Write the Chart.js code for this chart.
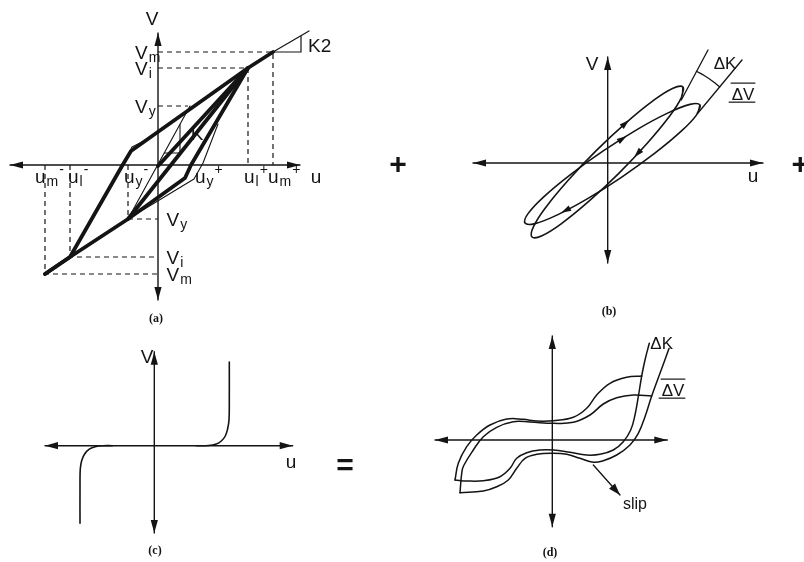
<!DOCTYPE html>
<html>
<head>
<meta charset="utf-8">
<script src="https://cdn.jsdelivr.net/npm/chart.js@4.4.1/dist/chart.umd.min.js"></script>
<style>
  html, body { margin: 0; padding: 0; background: #fff; }
  body { width: 804px; height: 562px; position: relative; overflow: hidden; }
  canvas { position: absolute; }
</style>
</head>
<body>
<canvas id="panelA" width="340" height="330" style="left:0;top:0"></canvas>
<canvas id="panelB" width="424" height="330" style="left:380px;top:0"></canvas>
<canvas id="panelC" width="380" height="232" style="left:0;top:330px"></canvas>
<canvas id="panelD" width="424" height="232" style="left:380px;top:330px"></canvas>
<script>
// All curves are given in (u, V) units; each panel's origin sits where its axes cross.

// ---------- (a) degrading stiffness loops ----------
const aAxis = [-14.8, 14.2, -13.5, 13.2];                 // uMin, uMax, VMin, VMax
const aEnvelopeUp   = [[-11.3,-10.9],[-8.8,-9.2],[-3.6,-0.1],[-2.7,1.4],[9.0,9.7],[11.5,11.3]];
const aReloadOrigin = [[0,-0.1],[9.0,9.7]];
const aUnload       = [[9.0,9.7],[3.3,0],[2.7,-1.3],[-3.0,-5.4],[-8.8,-9.2],[-11.3,-10.9]];
const aReloadPeak   = [[-3.0,-5.4],[9.0,9.7]];
const aElastic      = [[-3.0,-5.4],[3.2,5.9]];
const aSkeletonNeg  = [[-3.7,-0.5],[-2.6,1.8],[-1.2,2.5]];
const aSkeletonPos  = [[-3.0,-5.4],[3.6,-1.4],[4.5,0.2],[6.0,4.1]];
const aKTriangle    = [[0.65,1.2],[2.2,1.2],[2.2,4.05]];
const aPostYield    = [[11.5,11.3],[15.1,13.4]];
const aK2Triangle   = [[11.5,11.3],[14.3,11.3],[14.3,12.9]];
const aGuideMaxPos  = [[0,11.3],[11.5,11.3],[11.5,0]];
const aGuideIntPos  = [[0,9.7],[9.0,9.7],[9.0,0]];
const aGuideYldPos  = [[0,5.9],[3.0,5.9]];
const aGuideMaxNeg  = [[-11.3,0],[-11.3,-10.9],[0,-10.9]];
const aGuideIntNeg  = [[-8.8,0],[-8.8,-9.2],[0,-9.2]];
const aGuideYldNeg  = [[-3.0,0],[-3.0,-5.4],[0,-5.4]];
const aUTickLabelAt = [-12.3, -9.0, -3.4, 3.7, 8.6, 11.0];
const aUTickSubs    = ['m', 'l', 'y', 'y', 'l', 'm'];
const aUTickSigns   = ['-', '-', '-', '+', '+', '+'];
const aVTickUpper   = [11.3, 9.7, 5.9];
const aVTickUpSubs  = ['m', 'i', 'y'];
const aVTickLower   = [-5.4, -9.2, -10.9];
const aVTickLoSubs  = ['y', 'i', 'm'];

// ---------- (b) stiffness and strength degradation ----------
const bAxis = [-13.47, 15.53, -10.0, 10.6];
const bLoopStiff = [[7.53,7.60],[7.39,6.59],[6.12,4.59],[3.91,1.92],[1.11,-1.04],[-1.87,-3.82],[-4.56,-6.01],[-6.57,-7.27],
                    [-7.57,-7.40],[-7.43,-6.39],[-6.16,-4.39],[-3.95,-1.72],[-1.15,1.24],[1.83,4.02],[4.52,6.21],[6.53,7.47]];
const bLoopSoft  = [[9.23,5.80],[8.91,4.84],[7.30,3.13],[4.65,0.93],[1.37,-1.43],[-2.05,-3.59],[-5.08,-5.21],[-7.27,-6.06],
                    [-8.27,-6.00],[-7.95,-5.04],[-6.34,-3.33],[-3.69,-1.13],[-0.41,1.23],[3.01,3.39],[6.04,5.01],[8.23,5.86]];
const bSlopeStiff = [[7.36,6.3],[10.03,11.3]];
const bSlopeSoft  = [[9.03,5.0],[13.43,10.3]];
const bSlopeArc   = [[8.88,9.17],[9.69,8.72],[10.49,8.18],[11.2,7.62]];

// ---------- (c) slip ----------
const cAxis = [-10.93, 13.84, -8.73, 9.4];
const cSlipPos = [[4.2,0],[5.4,0.02],[6.2,0.17],[6.7,0.47],[7.1,0.97],[7.33,1.67],[7.47,2.57],[7.5,4.6],[7.5,8.37]];
const cSlipNeg = [[-4.2,0],[-5.1,0],[-5.9,-0.1],[-6.5,-0.35],[-6.95,-0.8],[-7.25,-1.45],[-7.4,-2.3],[-7.43,-4.0],[-7.43,-7.76]];

// ---------- (d) combined loops ----------
const dAxis = [-11.73, 11.5, -8.67, 10.4];
const dStiffLower = [[9.70,9.67],[9.27,8.0],[8.94,6.4],[8.60,4.33],[8.27,2.5],[7.84,1.0],[7.10,-0.17],[6.10,-1.0],[4.77,-1.43],
                     [3.44,-1.5],[1.77,-1.23],[0.10,-1.0],[-1.23,-1.0],[-2.56,-1.27],[-3.56,-1.83],[-4.23,-2.83],[-5.23,-3.67],
                     [-6.90,-4.07],[-8.56,-4.1],[-9.73,-4.0]];
const dStiffUpper = [[-9.73,-4.0],[-9.40,-2.33],[-8.56,-0.67],[-7.56,0.5],[-6.23,1.5],[-4.56,2.1],[-2.90,2.07],[-1.56,1.9],
                     [0.10,1.93],[2.10,2.27],[3.44,3.17],[4.44,4.5],[5.77,5.67],[7.44,6.27],[8.94,6.4]];
const dSoftLower  = [[11.67,9.15],[10.77,6.67],[9.94,4.4],[9.27,2.33],[8.60,0.67],[7.77,-0.5],[6.44,-1.5],[5.10,-2.07],
                     [4.10,-2.23],[2.77,-1.83],[1.44,-1.43],[0.10,-1.33],[-1.56,-1.43],[-2.73,-1.83],[-3.56,-2.83],
                     [-4.40,-4.0],[-5.56,-4.67],[-6.90,-5.1],[-9.23,-5.27]];
const dSoftUpper  = [[-9.23,-5.27],[-9.06,-3.33],[-8.88,-2.6],[-7.90,-1.0],[-6.90,0.33],[-5.56,1.27],[-3.90,1.83],[-2.23,1.8],
                     [0.10,1.67],[2.10,1.77],[3.77,2.5],[5.10,3.6],[6.44,4.23],[8.10,4.5],[9.94,4.4]];
const dSlipPointer = [[4.10,-2.5],[6.77,-5.5]];

const INK = '#141414';

const xy = arr => arr.map(([x, y]) => ({ x, y }));
const closed = arr => xy([...arr, arr[0], arr[1]]);
const axisLines = ax => [
  line(xy([[ax[0], 0], [ax[1], 0]]), 1.4),
  line(xy([[0, ax[2]], [0, ax[3]]]), 1.4)
];
function line(data, width, extra) {
  return Object.assign({
    data, showLine: true, borderColor: INK, borderWidth: width, pointRadius: 0, pointHoverRadius: 0,
    fill: false, tension: 0, borderJoinStyle: 'round', borderCapStyle: 'round'
  }, extra || {});
}
const dashed = d => line(xy(d), 1.2, { borderDash: [5, 4], borderCapStyle: 'butt' });

function head(ctx, x, y, ang, len = 13, half = 3.6) {
  const c = Math.cos(ang), s = Math.sin(ang);
  ctx.beginPath();
  ctx.moveTo(x, y);
  ctx.lineTo(x - len * c - half * s, y - len * s + half * c);
  ctx.lineTo(x - len * c + half * s, y - len * s - half * c);
  ctx.closePath();
  ctx.fill();
}

function drawSym(ctx, x, y, t) {
  const S = t.size || 19, fam = t.family || 'Liberation Sans', w = t.weight || 'normal';
  const fMain = `${w} ${S}px "${fam}"`;
  const fSub = `${w} ${Math.round(S * 0.75)}px "${fam}"`;
  const fSup = `${w} ${Math.round(S * 0.72)}px "${fam}"`;
  ctx.font = fMain; const wm = ctx.measureText(t.main).width;
  ctx.font = fSub; const ws = t.sub ? ctx.measureText(t.sub).width + 1 : 0;
  ctx.font = fSup; const wp = t.sup ? ctx.measureText(t.sup).width + 1 : 0;
  const total = wm + ws + wp;
  const x0 = t.align === 'left' ? x : t.align === 'right' ? x - total : x - total / 2;
  const base = y + S * 0.36;
  ctx.textAlign = 'left';
  ctx.textBaseline = 'alphabetic';
  ctx.font = fMain; ctx.fillText(t.main, x0, base);
  if (t.sub) { ctx.font = fSub; ctx.fillText(t.sub, x0 + wm + 1, base + S * 0.14); }
  if (t.sup) { ctx.font = fSup; ctx.fillText(t.sup, x0 + wm + ws + 1, base - S * 0.5); }
  ctx.lineWidth = 1.2;
  if (t.over) { ctx.beginPath(); ctx.moveTo(x0 - 1, y - S * 0.64); ctx.lineTo(x0 + total + 1, y - S * 0.64); ctx.stroke(); }
  if (t.under) { ctx.beginPath(); ctx.moveTo(x0 - 3, y + S * 0.48); ctx.lineTo(x0 + total + 1, y + S * 0.48); ctx.stroke(); }
}

// Per-panel annotations: axis arrowheads, direction marks, text
const DIAGRAMS = {};

const diagramPlugin = {
  id: 'diagram',
  afterDatasetsDraw(chart) {
    const spec = DIAGRAMS[chart.canvas.id];
    if (!spec) return;
    const ctx = chart.ctx, sx = chart.scales.x, sy = chart.scales.y;
    const X = u => sx.getPixelForValue(u), Y = v => sy.getPixelForValue(v);
    ctx.save();
    ctx.fillStyle = INK; ctx.strokeStyle = INK;
    if (spec.axes) {
      const [u0, u1, v0, v1] = spec.axes;
      head(ctx, X(u1), Y(0), 0);
      head(ctx, X(u0), Y(0), Math.PI);
      head(ctx, X(0), Y(v1), -Math.PI / 2);
      head(ctx, X(0), Y(v0), Math.PI / 2);
    }
    (spec.flow || []).forEach(f => {
      const d = chart.data.datasets[f.ds].data.map(p => [X(p.x), Y(p.y)]);
      const x = X(f.u), y = Y(f.v);
      let best = null, bd = Infinity;
      for (let i = 0; i < d.length - 1; i++) {
        const [ax, ay] = d[i], [bx, by] = d[i + 1];
        const dx = bx - ax, dy = by - ay, L = dx * dx + dy * dy || 1;
        const t = Math.max(0, Math.min(1, ((x - ax) * dx + (y - ay) * dy) / L));
        const qx = ax + t * dx, qy = ay + t * dy, dd = (qx - x) ** 2 + (qy - y) ** 2;
        if (dd < bd) { bd = dd; best = [qx, qy, Math.atan2(dy, dx)]; }
      }
      head(ctx, best[0] + Math.cos(best[2]) * 5, best[1] + Math.sin(best[2]) * 5, best[2], 10, 3);
    });
    (spec.ends || []).forEach(i => {
      const d = chart.data.datasets[i].data, n = d.length;
      const ax = X(d[n - 2].x), ay = Y(d[n - 2].y), bx = X(d[n - 1].x), by = Y(d[n - 1].y);
      head(ctx, bx, by, Math.atan2(by - ay, bx - ax), 12, 4);
    });
    (spec.texts || []).forEach(t => drawSym(ctx, X(t.u), Y(t.v), t));
    ctx.restore();
  }
};

function makePanel(id, ox, oy, datasets) {
  const cv = document.getElementById(id);
  const w = cv.width, h = cv.height;
  return new Chart(cv, {
    type: 'scatter',
    data: { datasets },
    options: {
      responsive: false, animation: false, events: [], devicePixelRatio: 1,
      layout: { padding: 0 },
      scales: {
        x: { type: 'linear', display: false, min: -ox / 10, max: (w - ox) / 10 },
        y: { type: 'linear', display: false, min: -(h - oy) / 10, max: oy / 10 }
      },
      plugins: { legend: { display: false }, tooltip: { enabled: false } }
    },
    plugins: [diagramPlugin]
  });
}

const CAPTION = { size: 12, family: 'Liberation Serif', weight: 'bold' };

// ----- panel (a) -----
DIAGRAMS.panelA = {
  axes: aAxis,
  texts: [
    { u: -0.6, v: 14.7, main: 'V' },
    { u: 15.8, v: -1.1, main: 'u' },
    ...aUTickLabelAt.map((u, i) => ({ u, v: -1.15, main: 'u', sub: aUTickSubs[i], sup: aUTickSigns[i], align: 'left' })),
    ...aVTickUpper.map((v, i) => ({ u: -2.3, v, main: 'V', sub: aVTickUpSubs[i], align: 'left' })),
    ...aVTickLower.map((v, i) => ({ u: 0.85, v, main: 'V', sub: aVTickLoSubs[i], align: 'left' })),
    { u: 3.9, v: 3.2, main: 'K' },
    { u: 15.0, v: 12.0, main: 'K2', align: 'left' },
    Object.assign({ u: -0.2, v: -15.3, main: '(a)' }, CAPTION)
  ]
};
makePanel('panelA', 158, 165, [
  ...axisLines(aAxis),
  dashed(aGuideMaxPos), dashed(aGuideIntPos), dashed(aGuideYldPos),
  dashed(aGuideMaxNeg), dashed(aGuideIntNeg), dashed(aGuideYldNeg),
  line(xy(aElastic), 1.1), line(xy(aSkeletonNeg), 1.1), line(xy(aSkeletonPos), 1.1),
  line(xy(aKTriangle), 1.1), line(xy(aPostYield), 1.2), line(xy(aK2Triangle), 1.2),
  line(xy(aEnvelopeUp), 3.8), line(xy(aReloadOrigin), 3.8),
  line(xy(aUnload), 3.8), line(xy(aReloadPeak), 3.8)
]);

// ----- panel (b) -----
DIAGRAMS.panelB = {
  axes: bAxis,
  flow: [
    { ds: 2, u: 1.73, v: 4.0 }, { ds: 2, u: 2.93, v: 1.0 },
    { ds: 3, u: 1.43, v: 2.5 }, { ds: 3, u: -4.07, v: -5.0 }
  ],
  texts: [
    { u: -1.57, v: 10.0, main: 'V' },
    { u: 14.53, v: -1.2, main: 'u' },
    { u: 11.73, v: 10.0, main: '\u0394K', size: 17 },
    { u: 13.53, v: 6.9, main: '\u0394V', size: 17, over: true, under: true },
    { u: -20.97, v: 0, main: '+', size: 30, weight: 'bold' },
    { u: 19.25, v: 0, main: '+', size: 30, weight: 'bold' },
    Object.assign({ u: 0.13, v: -14.8, main: '(b)' }, CAPTION)
  ]
};
makePanel('panelB', 227.7, 163, [
  ...axisLines(bAxis),
  line(closed(bLoopStiff), 1.6, { tension: 0.4 }),
  line(closed(bLoopSoft), 1.6, { tension: 0.4 }),
  line(xy(bSlopeStiff), 1.3), line(xy(bSlopeSoft), 1.3),
  line(xy(bSlopeArc), 1.3, { tension: 0.4 })
]);

// ----- panel (c) -----
DIAGRAMS.panelC = {
  axes: cAxis,
  texts: [
    { u: -0.73, v: 8.97, main: 'V' },
    { u: 13.67, v: -1.53, main: 'u' },
    { u: 19.07, v: -1.83, main: '=', size: 30, weight: 'bold' },
    Object.assign({ u: 0.07, v: -10.43, main: '(c)' }, CAPTION)
  ]
};
makePanel('panelC', 154.3, 115.7, [
  ...axisLines(cAxis),
  line(xy(cSlipPos), 1.6, { tension: 0.4 }),
  line(xy(cSlipNeg), 1.6, { tension: 0.4 })
]);

// ----- panel (d) -----
DIAGRAMS.panelD = {
  axes: dAxis,
  ends: [6],
  texts: [
    { u: 10.94, v: 9.7, main: '\u0394K', size: 17 },
    { u: 12.07, v: 5.0, main: '\u0394V', size: 17, over: true, under: true },
    { u: 8.27, v: -6.3, main: 'slip', size: 16 },
    Object.assign({ u: -0.23, v: -11.2, main: '(d)' }, CAPTION)
  ]
};
makePanel('panelD', 172.3, 110, [
  ...axisLines(dAxis),
  line(xy(dStiffLower), 1.5, { tension: 0.4 }),
  line(xy(dStiffUpper), 1.5, { tension: 0.4 }),
  line(xy(dSoftLower), 1.5, { tension: 0.4 }),
  line(xy(dSoftUpper), 1.5, { tension: 0.4 }),
  line(xy(dSlipPointer), 1.3)
]);
</script>
</body>
</html>
